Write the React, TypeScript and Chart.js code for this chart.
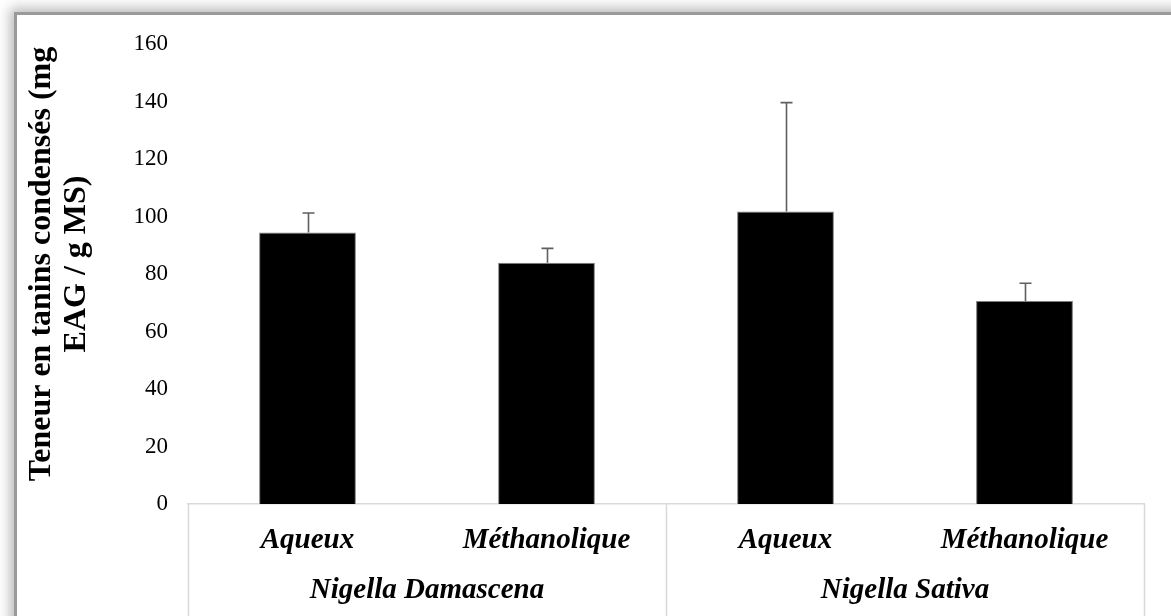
import React, { useEffect, useRef } from 'react';
import { Chart, registerables } from 'chart.js';

Chart.register(...registerables);

const categories = ['Aqueux', 'Méthanolique', 'Aqueux', 'Méthanolique'];
const groups = ['Nigella Damascena', 'Nigella Sativa'];
const groupSizes = [2, 2];
const values = [94.4, 83.9, 101.7, 70.6];
const errors = [6.8, 5.0, 37.9, 6.2];
const yMin = 0;
const yMax = 160;
const yStep = 20;
const yTitleLines = ['Teneur en tanins condensés (mg', 'EAG / g MS)'];

const FONT = "'Liberation Serif', 'Times New Roman', serif";

const errorBarPlugin = {
  id: 'errorBars',
  afterDatasetsDraw(chart: any) {
    const meta = chart.getDatasetMeta(0);
    const yScale = chart.scales.y;
    const ctx = chart.ctx;
    ctx.save();
    ctx.strokeStyle = '#5f5f5f';
    ctx.lineWidth = 1.6;
    meta.data.forEach((el: any, i: number) => {
      const x = Math.round(el.x) + 0.5;
      const yBase = el.y;
      const yTop = yScale.getPixelForValue(values[i] + errors[i]);
      ctx.beginPath();
      ctx.moveTo(x, yBase);
      ctx.lineTo(x, yTop);
      ctx.moveTo(x - 6, yTop);
      ctx.lineTo(x + 6, yTop);
      ctx.stroke();
    });
    ctx.restore();
  },
};

const groupPlugin = {
  id: 'groupAxis',
  afterDraw(chart: any) {
    const xScale = chart.scales.x;
    const area = chart.chartArea;
    const ctx = chart.ctx;
    const catW = (xScale.right - xScale.left) / categories.length;
    ctx.save();
    ctx.strokeStyle = '#d9d9d9';
    ctx.lineWidth = 1.5;
    let start = 0;
    const bounds: number[] = [xScale.getPixelForValue(0) - catW / 2];
    groupSizes.forEach((n) => {
      start += n;
      bounds.push(xScale.getPixelForValue(start - 1) + catW / 2);
    });
    bounds.forEach((bx) => {
      ctx.beginPath();
      ctx.moveTo(Math.round(bx) + 0.5, area.bottom);
      ctx.lineTo(Math.round(bx) + 0.5, chart.height);
      ctx.stroke();
    });
    ctx.fillStyle = '#000';
    ctx.font = `italic bold 29px ${FONT}`;
    ctx.textAlign = 'center';
    ctx.textBaseline = 'middle';
    groups.forEach((g, i) => {
      const cx = (bounds[i] + bounds[i + 1]) / 2;
      ctx.fillText(g, cx, 591);
    });
    // y axis title
    ctx.font = `bold 32px ${FONT}`;
    const cy = 264;
    ctx.translate(0, cy);
    ctx.rotate(-Math.PI / 2);
    ctx.fillText(yTitleLines[0], 0, 42);
    ctx.fillText(yTitleLines[1], 0, 77);
    ctx.restore();
  },
};

export default function App() {
  const canvasRef = useRef<HTMLCanvasElement | null>(null);

  useEffect(() => {
    if (!canvasRef.current) return;
    const chart = new Chart(canvasRef.current, {
      type: 'bar',
      data: {
        labels: categories,
        datasets: [
          {
            data: values,
            backgroundColor: '#000000',
            borderColor: '#808080',
            borderWidth: 1,
            categoryPercentage: 1,
            barPercentage: 0.405,
          },
        ],
      },
      options: {
        animation: false,
        responsive: false,
        maintainAspectRatio: false,
        layout: { padding: { left: 0, top: 44, right: 27, bottom: 0 } },
        plugins: {
          legend: { display: false },
          tooltip: { enabled: false },
          title: { display: false },
        },
        scales: {
          x: {
            grid: { display: false, drawTicks: false },
            border: { display: true, color: '#d9d9d9', width: 1.5 },
            ticks: {
              color: '#000',
              font: { family: FONT, size: 29, style: 'italic', weight: 'bold' },
              padding: 19,
              maxRotation: 0,
              autoSkip: false,
            },
            afterFit: (scale: any) => {
              scale.height = 112;
            },
          },
          y: {
            min: yMin,
            max: yMax,
            grid: { display: false, drawTicks: false },
            border: { display: false },
            ticks: {
              stepSize: yStep,
              color: '#000',
              font: { family: FONT, size: 23 },
              padding: 20,
            },
            afterFit: (scale: any) => {
              scale.width = 188;
            },
          },
        },
      },
      plugins: [errorBarPlugin, groupPlugin],
    });
    return () => chart.destroy();
  }, []);

  return (
    <div
      style={{
        position: 'fixed',
        left: 0,
        top: 0,
        width: 1171,
        height: 616,
        overflow: 'hidden',
        background: '#ffffff',
      }}
    >
      <div
        style={{
          position: 'absolute',
          left: 14,
          top: 12,
          width: 1300,
          height: 800,
          border: '3px solid #9a9a9a',
          boxShadow: '0 0 12px 4px rgba(0,0,0,0.28)',
          background: '#ffffff',
        }}
      />
      <canvas
        ref={canvasRef}
        width={1171}
        height={616}
        style={{ position: 'absolute', left: 0, top: 0, width: 1171, height: 616 }}
      />
    </div>
  );
}
